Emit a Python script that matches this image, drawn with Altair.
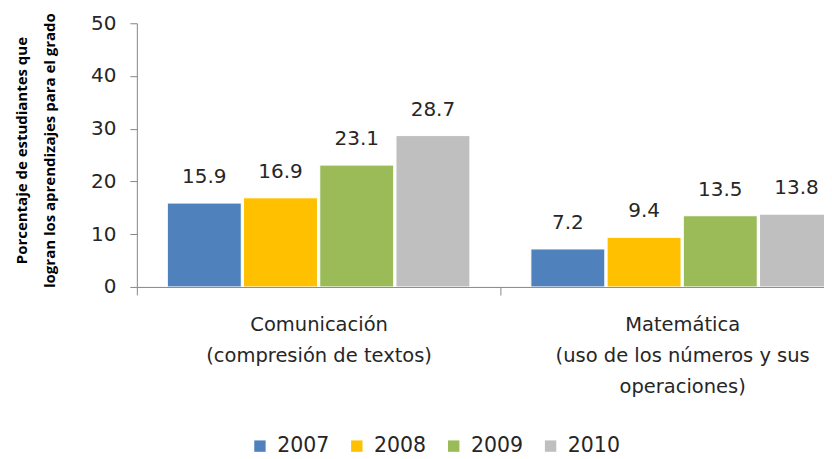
import altair as alt
import pandas as pd

categories = ["Comunicación|(compresión de textos)",
              "Matemática|(uso de los números y sus|operaciones)"]
years = ["2007", "2008", "2009", "2010"]
comunicacion = [15.9, 16.9, 23.1, 28.7]
matematica = [7.2, 9.4, 13.5, 13.8]
colors = ["#4F81BD", "#FFC000", "#9BBB59", "#BFBFBF"]

rows = []
for cat, vals in zip(categories, [comunicacion, matematica]):
    for y, v in zip(years, vals):
        rows.append({"cat": cat, "year": y, "value": v})
df = pd.DataFrame(rows)

FONT = "DejaVu Sans"
TFONT = "Liberation Sans Narrow, Open Sans"

x = alt.X("cat:N", sort=categories, title=None,
          scale=alt.Scale(range=[0, 728], paddingInner=0, paddingOuter=0),
          axis=alt.Axis(labelExpr="split(datum.label, '|')", labelAngle=0,
                        labelFontSize=19.5, labelLineHeight=31, labelColor="#262626",
                        labelFont=FONT, labelPadding=21, tickSize=8, labelLimit=0,
                        tickBand="extent", tickColor="#868686", domainColor="#868686",
                        labelBaseline="top"))
xo = alt.XOffset("year:N", sort=years,
                 scale=alt.Scale(paddingInner=0.03, paddingOuter=0.4))
y = alt.Y("value:Q", scale=alt.Scale(domain=[0, 50]),
          axis=alt.Axis(values=[0, 10, 20, 30, 40, 50], grid=False,
                        tickSize=7, labelPadding=14, labelFontSize=20,
                        labelColor="#262626", labelFont=FONT,
                        tickColor="#868686", domainColor="#868686",
                        title=["Porcentaje de estudiantes que",
                               "logran los aprendizajes para el grado"],
                        titleFont=TFONT, titleFontSize=15, titleFontWeight="bold",
                        titleColor="#000000", titleAngle=-90, titleX=-115,
                        titleY=127, titleAlign="center", titleBaseline="middle",
                        titleLineHeight=28))

color = alt.Color("year:N", sort=years,
                  scale=alt.Scale(domain=years, range=colors),
                  legend=alt.Legend(title=None, orient="none", direction="horizontal",
                                    legendX=113, legendY=413, symbolType="square",
                                    symbolSize=130, symbolStrokeWidth=0,
                                    labelFontSize=20.5, labelFont=FONT,
                                    labelColor="#262626", labelOffset=7,
                                    columnPadding=17, padding=0))

bars = alt.Chart(df).mark_bar(clip=True, stroke="white", strokeWidth=1).encode(
    x=x, xOffset=xo, y=y, color=color)

labels = alt.Chart(df).mark_text(clip=True, dy=-26, baseline="middle",
                                  fontSize=20, font=FONT, color="#262626").encode(
    x=x, xOffset=xo, y=y, text=alt.Text("value:Q", format=".1f"))

chart = (bars + labels).properties(
    width=688, height=264,
    autosize=alt.AutoSizeParams(type="none"),
    padding={"left": 129, "top": 15, "right": 0, "bottom": 172},
    background="white",
).configure_view(stroke=None)

chart.save("out.html", embed_options={"renderer": "svg", "actions": False})
